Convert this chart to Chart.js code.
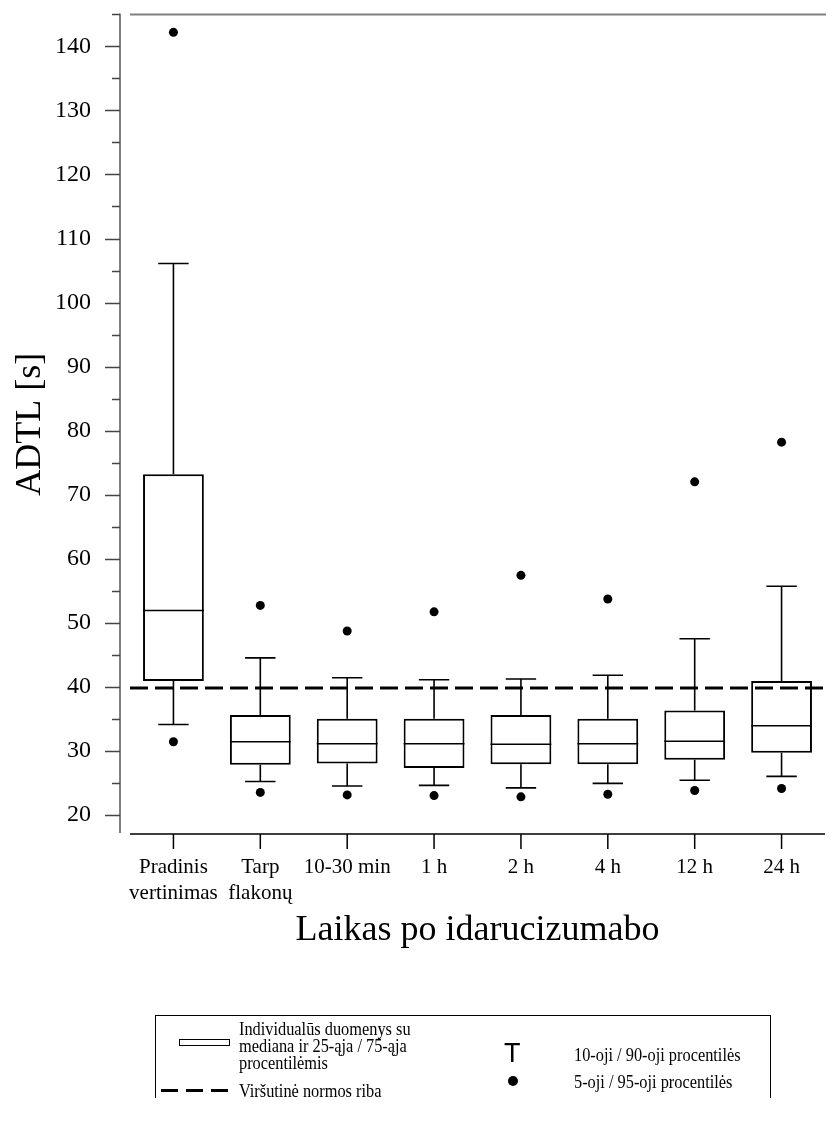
<!DOCTYPE html>
<html>
<head>
<meta charset="utf-8">
<script src="https://cdn.jsdelivr.net/npm/chart.js@4.4.0/dist/chart.umd.min.js"></script>
<style>
  html, body { margin: 0; padding: 0; background: #fff; }
  #tudo { position: relative; width: 832px; height: 1124px; font-family: "Liberation Serif", serif; color: #000; }
  #grafico { position: absolute; left: 0; top: 0; }
  #legenda { position: absolute; left: 155px; top: 1015px; width: 614px; height: 82px;
             border: 1.5px solid #000; border-bottom: none; }
  .txt { position: absolute; font-size: 19px; line-height: 17px; white-space: nowrap;
         transform: scaleX(0.86); transform-origin: left center; }
  .caixinha { position: absolute; left: 23px; top: 23px; width: 49px; height: 5px; border: 1.5px solid #000; }
  .traco { position: absolute; top: 73px; width: 17px; height: 3px; background: #000; }
  .letraT { position: absolute; left: 348px; top: 22px; font-family: "Liberation Sans", sans-serif; font-size: 27px; line-height: 30px; }
  .bola { position: absolute; left: 352px; top: 60px; width: 10px; height: 10px; border-radius: 50%; background: #000; }
</style>
</head>
<body>
<div id="tudo">
  <canvas id="grafico" width="832" height="1124"></canvas>
  <div id="legenda">
    <div class="caixinha"></div>
    <div class="txt" style="left:83px; top:4px;">Individualūs duomenys su<br>mediana ir 25-ąja / 75-ąja<br>procentilėmis</div>
    <div class="traco" style="left:5px;"></div>
    <div class="traco" style="left:30px;"></div>
    <div class="traco" style="left:55px;"></div>
    <div class="txt" style="left:83px; top:66px;">Viršutinė normos riba</div>
    <div class="letraT">T</div>
    <div class="txt" style="left:418px; top:30px;">10-oji / 90-oji procentilės</div>
    <div class="bola"></div>
    <div class="txt" style="left:418px; top:57px;">5-oji / 95-oji procentilės</div>
  </div>
</div>
<script>
  // categorias do eixo x
  var categorias = [['Pradinis', 'vertinimas'], ['Tarp', 'flakonų'], '10-30 min', '1 h', '2 h', '4 h', '12 h', '24 h'];

  // percentis (ADTL em segundos)
  var percentil5  = [31.4, 23.5, 23.1, 23.0, 22.8, 23.2, 23.8, 24.1];
  var percentil10 = [34.1, 25.2, 24.5, 24.6, 24.2, 24.9, 25.4, 26.0];
  var percentil25 = [40.9, 27.8, 28.0, 27.3, 27.9, 27.9, 28.6, 29.7];
  var medianas    = [51.9, 31.4, 31.1, 31.1, 31.0, 31.1, 31.5, 33.9];
  var percentil75 = [73.2, 35.6, 35.0, 35.0, 35.6, 35.0, 36.3, 40.9];
  var percentil90 = [106.1, 44.5, 41.4, 41.1, 41.2, 41.8, 47.5, 55.7];
  var percentil95 = [142.2, 52.7, 48.7, 51.7, 57.4, 53.7, 72.0, 78.2];

  // linha tracejada (limite superior normal)
  var limiteSuperior = 39.8;

  // ticks do eixo y
  var ticksMaiores = [20, 30, 40, 50, 60, 70, 80, 90, 100, 110, 120, 130, 140];
  var ticksMenores = [25, 35, 45, 55, 65, 75, 85, 95, 105, 115, 125, 135, 145];

  var fonte = 'Liberation Serif';

  // monta as caixas (barra flutuante de p25 ate p75)
  var caixas = [];
  for (var i = 0; i < percentil25.length; i++) {
    caixas.push([percentil25[i], percentil75[i]]);
  }

  // plugin que desenha eixos, bigodes, medianas e a linha tracejada
  var pluginDesenho = {
    id: 'desenho',
    beforeDatasetsDraw: function(chart) {
      var c = chart.ctx;
      var area = chart.chartArea;
      var escY = chart.scales.y;
      var escX = chart.scales.x;
      var eixoY = area.left - 10;

      c.save();
      // eixo y e linha de cima (cinza)
      c.strokeStyle = '#808080';
      c.lineWidth = 2;
      c.beginPath();
      c.moveTo(eixoY, area.top - 1);
      c.lineTo(eixoY, area.bottom - 1);
      c.moveTo(area.left, area.top);
      c.lineTo(area.right + 1, area.top);
      c.stroke();

      // ticks do eixo y
      c.strokeStyle = '#444';
      c.lineWidth = 1.5;
      c.beginPath();
      for (var i = 0; i < ticksMaiores.length; i++) {
        var y = Math.round(escY.getPixelForValue(ticksMaiores[i])) + 0.5;
        c.moveTo(eixoY - 15, y);
        c.lineTo(eixoY, y);
      }
      for (var j = 0; j < ticksMenores.length; j++) {
        var y2 = Math.round(escY.getPixelForValue(ticksMenores[j])) + 0.5;
        c.moveTo(eixoY - 8, y2);
        c.lineTo(eixoY, y2);
      }
      c.stroke();

      // eixo x (preto) e seus ticks
      c.strokeStyle = '#000';
      c.lineWidth = 1.5;
      c.beginPath();
      c.moveTo(area.left, area.bottom);
      c.lineTo(area.right, area.bottom);
      for (var k = 0; k < categorias.length; k++) {
        var x = escX.getPixelForValue(k);
        c.moveTo(x, area.bottom);
        c.lineTo(x, area.bottom + 15);
      }
      c.stroke();
      c.restore();
    },
    afterDatasetsDraw: function(chart) {
      var c = chart.ctx;
      var area = chart.chartArea;
      var escY = chart.scales.y;
      var barras = chart.getDatasetMeta(0).data;

      c.save();
      c.strokeStyle = '#000';
      for (var i = 0; i < barras.length; i++) {
        var x = barras[i].x;
        var meia = barras[i].width / 4;
        var yP10 = escY.getPixelForValue(percentil10[i]);
        var yP25 = escY.getPixelForValue(percentil25[i]);
        var yP75 = escY.getPixelForValue(percentil75[i]);
        var yP90 = escY.getPixelForValue(percentil90[i]);
        var yMed = escY.getPixelForValue(medianas[i]);

        // bigodes
        c.lineWidth = 1.6;
        c.beginPath();
        c.moveTo(x, yP75);
        c.lineTo(x, yP90);
        c.moveTo(x - meia, yP90);
        c.lineTo(x + meia, yP90);
        c.moveTo(x, yP25);
        c.lineTo(x, yP10);
        c.moveTo(x - meia, yP10);
        c.lineTo(x + meia, yP10);
        c.stroke();

        // mediana
        c.lineWidth = 1.5;
        c.beginPath();
        c.moveTo(x - barras[i].width / 2, yMed);
        c.lineTo(x + barras[i].width / 2, yMed);
        c.stroke();
      }

      // linha tracejada
      var yLim = escY.getPixelForValue(limiteSuperior);
      c.lineWidth = 3;
      c.setLineDash([18, 7]);
      c.beginPath();
      c.moveTo(area.left, yLim);
      c.lineTo(area.right, yLim);
      c.stroke();
      c.restore();
    }
  };

  var ctx = document.getElementById('grafico').getContext('2d');
  var grafico = new Chart(ctx, {
    type: 'bar',
    data: {
      labels: categorias,
      datasets: [
        {
          type: 'bar',
          data: caixas,
          backgroundColor: '#fff',
          borderColor: '#000',
          borderWidth: 2,
          borderSkipped: false,
          barPercentage: 0.7,
          categoryPercentage: 1
        },
        {
          type: 'line',
          data: percentil95,
          showLine: false,
          pointRadius: 4.5,
          pointBackgroundColor: '#000',
          pointBorderWidth: 0
        },
        {
          type: 'line',
          data: percentil5,
          showLine: false,
          pointRadius: 4.5,
          pointBackgroundColor: '#000',
          pointBorderWidth: 0
        }
      ]
    },
    options: {
      responsive: false,
      animation: false,
      layout: { padding: { top: 14, right: 7, left: 0, bottom: 0 } },
      plugins: {
        legend: { display: false },
        tooltip: { enabled: false }
      },
      scales: {
        x: {
          offset: true,
          grid: { display: false, drawTicks: false },
          border: { display: false },
          ticks: {
            color: '#000',
            padding: 20,
            maxRotation: 0,
            autoSkip: false,
            font: { family: fonte, size: 21, lineHeight: 1.25 }
          },
          title: {
            display: true,
            text: 'Laikas po idarucizumabo',
            color: '#000',
            font: { family: fonte, size: 36, lineHeight: 1.2 },
            padding: { top: 0, bottom: 172 }
          },
          afterFit: function(escala) { escala.height = 290; }
        },
        y: {
          min: 17,
          max: 145,
          afterBuildTicks: function(escala) {
            escala.ticks = ticksMaiores.map(function(v) { return { value: v }; });
          },
          grid: { display: true, drawOnChartArea: false, drawTicks: true, tickLength: 39, tickColor: 'rgba(0,0,0,0)' },
          border: { display: false },
          ticks: {
            color: '#000',
            padding: 0,
            font: { family: fonte, size: 24 }
          },
          title: {
            display: true,
            text: 'ADTL [s]',
            color: '#000',
            font: { family: fonte, size: 36, lineHeight: 1.2 },
            padding: { top: 9, bottom: 0 }
          },
          afterFit: function(escala) { escala.width = 130; }
        }
      }
    },
    plugins: [pluginDesenho]
  });
</script>
</body>
</html>
